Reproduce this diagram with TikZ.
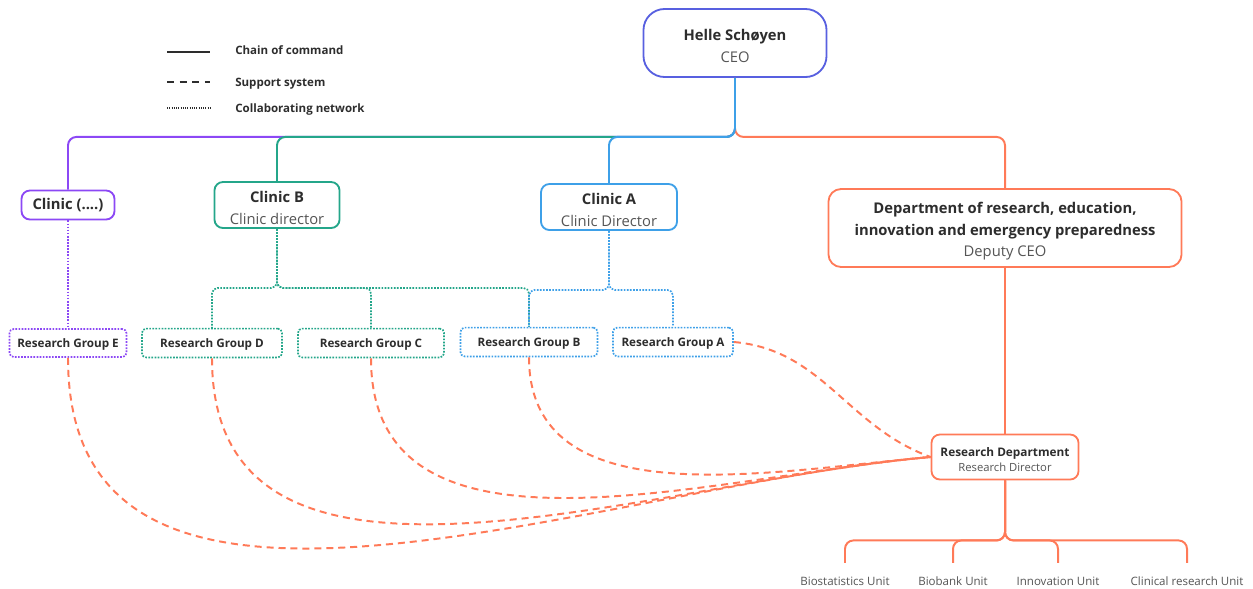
\documentclass[tikz,border=0pt]{standalone}
\usepackage{fontspec}
\setmainfont{Open Sans}
\definecolor{ceoblue}{RGB}{88,96,224}
\definecolor{cpurple}{RGB}{140,72,245}
\definecolor{cteal}{RGB}{36,166,138}
\definecolor{cblue}{RGB}{62,160,232}
\definecolor{corange}{RGB}{255,122,88}
\definecolor{titlegray}{RGB}{45,45,45}
\definecolor{subgray}{RGB}{85,85,85}
\newcommand{\toppad}{\rule{0pt}{12.5pt}}
\begin{document}
\begin{tikzpicture}[x=0.025cm, y=-0.025cm,
   box/.style={draw, line width=1.3pt, fill=white, align=center, inner sep=0pt,
     rounded corners=6pt, text=titlegray, font=\fontsize{10.5}{15.5}\selectfont},
   grp/.style={draw, line width=1.2pt, dash pattern=on 1.2pt off 1pt, rounded corners=3pt,
     fill=white, inner sep=0pt, minimum height=0.72cm, text height=8pt, text depth=2pt,
     text=titlegray, font=\fontsize{8.3}{10}\selectfont\bfseries},
   unit/.style={inner xsep=0pt, inner ysep=9.75pt, text height=6pt, text depth=1.5pt,
     text=subgray, font=\fontsize{8.2}{10}\selectfont},
   legend/.style={anchor=west, inner sep=0pt, text height=8pt, text depth=2pt, text=titlegray,
     font=\fontsize{8.2}{10}\selectfont\bfseries},
   chain/.style={line width=1.4pt, rounded corners=6pt},
   collab/.style={line width=1.2pt, dash pattern=on 1.2pt off 1pt, rounded corners=4pt},
   support/.style={line width=1.4pt, dash pattern=on 5pt off 3.5pt, corange}]
   \useasboundingbox (0,0) rectangle (1253,588);

   % Legend
   \coordinate (lg1) at (167,52);
   \coordinate (lg2) at (167,82);
   \coordinate (lg3) at (167,108);
   \draw[line width=1.3pt, titlegray] (lg1) -- ++(43,0);
   \draw[line width=1.3pt, titlegray, dash pattern=on 5pt off 4pt] (lg2) -- ++(43,0);
   \draw[line width=0.9pt, titlegray, dash pattern=on 0.8pt off 0.8pt] (lg3) -- ++(43,0);
   \node[legend] (lgt1) at (235,50) {Chain of command};
   \node[legend] (lgt2) at (235,82) {Support system};
   \node[legend] (lgt3) at (235,108) {Collaborating network};

   % Top level
   \node[box, draw=ceoblue, rounded corners=15pt, minimum width=4.575cm, minimum height=1.7cm] (ceo) at (735,43)
     {\toppad\bfseries Helle Schøyen\\{\color{subgray}CEO}};
   \node[box, draw=cpurple, minimum width=2.325cm, minimum height=0.725cm] (cl0) at (68,205)
     {\bfseries Clinic (....)};
   \node[box, draw=cteal, minimum width=3.125cm, minimum height=1.15cm] (clB) at (277,205)
     {\toppad\bfseries Clinic B\\{\color{subgray}Clinic director}};
   \node[box, draw=cblue, minimum width=3.4cm, minimum height=1.15cm] (clA) at (609,207)
     {\toppad\bfseries Clinic A\\{\color{subgray}Clinic Director}};
   \node[box, draw=corange, rounded corners=9pt, minimum width=8.825cm, minimum height=1.95cm] (dept) at (1005,228)
     {\toppad\bfseries Department of research, education,\\\bfseries innovation and emergency preparedness\\{\color{subgray}Deputy CEO}};
   \node[box, draw=corange, font=\fontsize{8.4}{11.3}\selectfont, minimum width=3.675cm, minimum height=1.125cm] (rd) at (1005,457)
     {\rule{0pt}{10pt}\bfseries Research Department\\{\color{subgray}\fontsize{8}{11.3}\selectfont Research Director}};

   % Research groups
   \node[grp, draw=cpurple, minimum width=2.925cm, minimum height=0.7cm] (rgE) at (68,343) {Research Group E};
   \node[grp, draw=cteal, minimum width=3.5cm] (rgD) at (212,343) {Research Group D};
   \node[grp, draw=cteal, minimum width=3.65cm] (rgC) at (371,343) {Research Group C};
   \node[grp, draw=cblue, minimum width=3.425cm] (rgB) at (529,342) {Research Group B};
   \node[grp, draw=cblue, minimum width=3.0cm] (rgA) at (673,342) {Research Group A};

   % Units
   \node[unit] (u1) at (845,582) {Biostatistics Unit};
   \node[unit] (u2) at (953,582) {Biobank Unit};
   \node[unit] (u3) at (1058,582) {Innovation Unit};
   \node[unit] (u4) at (1187,582) {Clinical research Unit};

   % Chain of command
   \draw[chain, cpurple] (ceo.south) -- ++(0,59) -| (cl0.north);
   \draw[chain, cteal] (ceo.south) -- ++(0,59) -| (clB.north);
   \draw[chain, corange] (ceo.south) -- ++(0,59) -| (dept.north);
   \draw[chain, cblue] (ceo.south) -- ++(0,59) -| (clA.north);
   \draw[chain, corange] (dept.south) -- (rd.north);
   \foreach \u in {u1,u2,u3,u4}
     \draw[chain, corange] (rd.south) -- ++(0,60) -| (\u.north);

   % Collaborating network
   \draw[collab, cpurple] (cl0.south) -- (rgE.north);
   \foreach \g in {rgD,rgC,rgB}
     \draw[collab, cteal] (clB.south) -- ++(0,59) -| (\g.north);
   \foreach \g in {rgB,rgA}
     \draw[collab, cblue] (clA.south) -- ++(0,59) -| (\g.north);

   % Support system
   \draw[support] (rgE.south) to[out=-90, in=185] (rd.west);
   \draw[support] (rgD.south) to[out=-90, in=185] (rd.west);
   \draw[support] (rgC.south) to[out=-90, in=185] (rd.west);
   \draw[support] (rgB.south) to[out=-90, in=185] (rd.west);
   \draw[support] (rgA.east) to[out=-5, in=160] (rd.west);
\end{tikzpicture}
\end{document}
